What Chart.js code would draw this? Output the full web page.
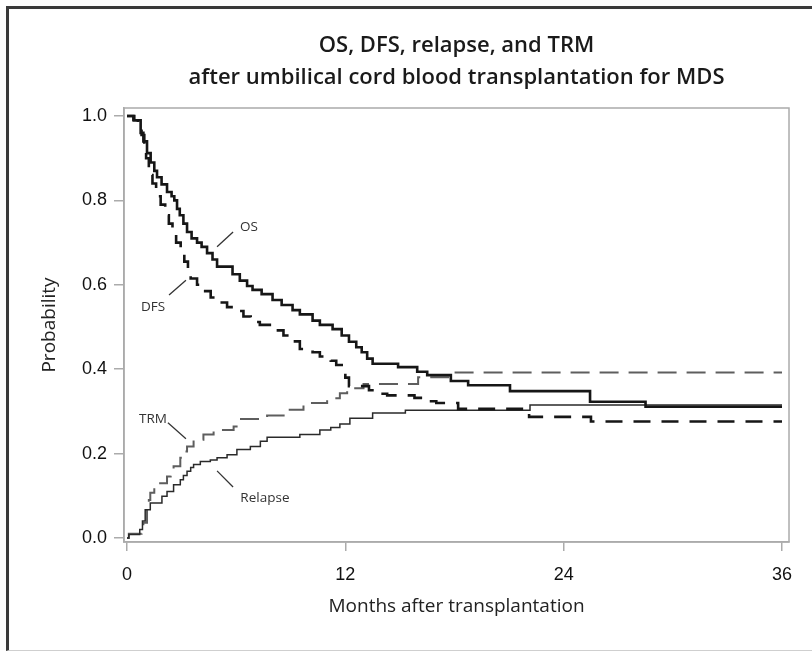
<!DOCTYPE html>
<html>
<head>
<meta charset="utf-8">
<title>OS, DFS, relapse, and TRM after UCBT for MDS</title>
<script src="https://cdn.jsdelivr.net/npm/chart.js@4/dist/chart.umd.min.js"></script>
<style>
  html, body { margin: 0; padding: 0; background: #fff; }
  #wrap { position: relative; width: 812px; height: 652px; overflow: hidden; }
  #frame {
    position: absolute; left: 6px; top: 6px; width: 820px; height: 641px;
    border-left: 3px solid #3a3a3a; border-top: 3px solid #3a3a3a;
    border-bottom: 1px solid #cfcfcf; pointer-events: none;
  }
</style>
</head>
<body>
<div id="wrap">
  <canvas id="chart" width="812" height="652"></canvas>
  <div id="frame"></div>
</div>
<script>
// Kaplan-Meier / cumulative incidence curves (months, probability)
const osMonths = [0, 0.35, 0.75, 0.9, 1.1, 1.3, 1.5, 1.65, 1.9, 2.2, 2.45, 2.6, 2.75, 2.9, 3.1, 3.3, 3.55, 3.85, 4.1, 4.4,
  4.7, 4.95, 5.8, 6.2, 6.6, 6.9, 7.4, 8.0, 8.5, 9.1, 9.5, 10.2, 10.6, 11.3, 11.8, 12.2, 12.6, 12.9, 13.2, 13.5,
  14.9, 15.95, 16.5, 17.8, 18.75, 21.05, 25.45, 28.5, 36];
const osProb = [1.0, 0.99, 0.96, 0.94, 0.912, 0.89, 0.87, 0.855, 0.838, 0.82, 0.81, 0.80, 0.78, 0.765, 0.745, 0.725, 0.71, 0.70, 0.69, 0.675,
  0.66, 0.643, 0.625, 0.61, 0.597, 0.588, 0.578, 0.564, 0.552, 0.54, 0.53, 0.515, 0.505, 0.495, 0.48, 0.465, 0.452, 0.44, 0.425, 0.413,
  0.405, 0.394, 0.386, 0.372, 0.362, 0.348, 0.323, 0.311, 0.311];

const dfsMonths = [0, 0.4, 0.6, 0.8, 0.95, 1.05, 1.2, 1.4, 1.6, 1.85, 2.1, 2.3, 2.5, 2.7, 2.95, 3.15, 3.35, 3.5, 3.85, 4.2,
  4.6, 5.0, 5.5, 5.9, 6.4, 6.8, 7.3, 8.1, 8.6, 9.1, 9.5, 10.2, 10.6, 11.2, 11.5, 11.8, 12.0, 12.2, 13.3, 13.8,
  14.3, 15.8, 16.3, 17.0, 18.2, 22.1, 25.5, 36];
const dfsProb = [1.0, 0.99, 0.98, 0.955, 0.92, 0.90, 0.86, 0.84, 0.81, 0.79, 0.765, 0.745, 0.72, 0.70, 0.68, 0.655, 0.635, 0.615, 0.60, 0.585,
  0.57, 0.558, 0.547, 0.538, 0.525, 0.512, 0.505, 0.492, 0.48, 0.466, 0.448, 0.44, 0.43, 0.42, 0.41, 0.395, 0.38, 0.36, 0.35, 0.342,
  0.338, 0.332, 0.324, 0.32, 0.306, 0.287, 0.276, 0.276];

const relapseMonths = [0, 0.1, 0.7, 0.85, 1.0, 1.28, 1.92, 2.2, 2.56, 2.93, 3.1, 3.3, 3.5, 3.66, 4.03, 4.58, 4.95, 5.5, 6.04, 6.78,
  7.33, 7.7, 9.5, 10.6, 11.2, 11.7, 12.25, 13.5, 15.3, 22.15, 36];
const relapseProb = [0, 0.008, 0.02, 0.04, 0.067, 0.083, 0.099, 0.11, 0.126, 0.138, 0.148, 0.158, 0.167, 0.174, 0.181, 0.185, 0.19, 0.197, 0.21, 0.217,
  0.229, 0.239, 0.245, 0.256, 0.262, 0.27, 0.284, 0.296, 0.303, 0.315, 0.315];

const trmMonths = [0, 0.1, 0.8, 0.9, 1.1, 1.2, 1.28, 1.5, 1.74, 2.2, 2.4, 2.56, 2.93, 3.1, 3.3, 3.66, 4.2, 4.76, 5.86, 6.2,
  7.7, 8.8, 9.7, 11.0, 11.7, 12.1, 13.0, 16.0, 17.85, 36];
const trmProb = [0, 0.01, 0.02, 0.036, 0.067, 0.09, 0.107, 0.12, 0.13, 0.146, 0.158, 0.17, 0.19, 0.205, 0.217, 0.233, 0.245, 0.256, 0.264, 0.282,
  0.29, 0.304, 0.32, 0.331, 0.343, 0.355, 0.365, 0.381, 0.392, 0.392];

const xTicks = [0, 12, 24, 36];
const yTicks = [0, 0.2, 0.4, 0.6, 0.8, 1.0];

// curve name labels with their leader lines, in data units
const curveNotes = [
  { text: "OS", at: [6.7, 0.737], line: [4.95, 0.69, 5.83, 0.725] },
  { text: "DFS", at: [1.43, 0.547], line: [2.31, 0.576, 3.24, 0.611] },
  { text: "TRM", at: [1.43, 0.282], line: [2.25, 0.273, 3.24, 0.235] },
  { text: "Relapse", at: [7.58, 0.095], line: [4.95, 0.159, 5.83, 0.121] },
];

const toPoints = (xs, ys) => xs.map((m, i) => ({ x: m, y: ys[i] }));

const axisGray = "#ababab";
const tickFont = { family: '"Liberation Sans", Arial, sans-serif', size: 18 };
const textFont = '"Open Sans", "Noto Sans", sans-serif';

const frameBox = {
  id: "frameBox",
  beforeDatasetsDraw(chart) {
    const { ctx, chartArea: a } = chart;
    ctx.save();
    ctx.strokeStyle = axisGray;
    ctx.lineWidth = 1.5;
    ctx.strokeRect(a.left, a.top, a.right - a.left, a.bottom - a.top);
    ctx.restore();
  },
};

const curveLabels = {
  id: "curveLabels",
  afterDatasetsDraw(chart) {
    const { ctx, scales: { x, y } } = chart;
    ctx.save();
    ctx.font = "13.5px " + textFont;
    ctx.fillStyle = "#333";
    ctx.strokeStyle = "#333";
    ctx.lineWidth = 1.3;
    ctx.textAlign = "center";
    ctx.textBaseline = "middle";
    curveNotes.forEach((n) => {
      ctx.beginPath();
      ctx.moveTo(x.getPixelForValue(n.line[0]), y.getPixelForValue(n.line[1]));
      ctx.lineTo(x.getPixelForValue(n.line[2]), y.getPixelForValue(n.line[3]));
      ctx.stroke();
      ctx.fillText(n.text, x.getPixelForValue(n.at[0]), y.getPixelForValue(n.at[1]));
    });
    ctx.restore();
  },
};

function curve(label, xs, ys, color, width, dash) {
  return {
    label,
    data: toPoints(xs, ys),
    borderColor: color,
    borderWidth: width,
    borderDash: dash,
    stepped: true,
    fill: false,
    pointRadius: 0,
    borderCapStyle: "butt",
    borderJoinStyle: "miter",
  };
}

new Chart(document.getElementById("chart").getContext("2d"), {
  type: "line",
  data: {
    datasets: [
      curve("OS", osMonths, osProb, "#161616", 2.6, []),
      curve("DFS", dfsMonths, dfsProb, "#161616", 2.6, [17, 11]),
      curve("Relapse", relapseMonths, relapseProb, "#2a2a2a", 1.5, []),
      curve("TRM", trmMonths, trmProb, "#5e5e5e", 2, [19, 10]),
    ],
  },
  options: {
    responsive: false,
    animation: false,
    devicePixelRatio: 1,
    layout: { padding: { left: 0, right: 23, top: 0, bottom: 0 } },
    plugins: {
      legend: { display: false },
      tooltip: { enabled: false },
      title: {
        display: true,
        fullSize: false,
        text: ["OS, DFS, relapse, and TRM", "after umbilical cord blood transplantation for MDS"],
        color: "#1a1a1a",
        font: { family: textFont, size: 22, weight: "600", lineHeight: 32 / 22 },
        padding: { top: 30, bottom: 14 },
      },
    },
    scales: {
      x: {
        type: "linear",
        min: -0.165,
        max: 36.385,
        afterBuildTicks: (s) => { s.ticks = xTicks.map((v) => ({ value: v })); },
        afterFit: (s) => { s.height = 110; },
        grid: { drawOnChartArea: false, drawTicks: true, tickLength: 9, color: axisGray, lineWidth: 1.5 },
        border: { display: true, color: axisGray, width: 1.5 },
        ticks: { font: tickFont, color: "#111", padding: 13, maxRotation: 0, autoSkip: false, callback: (v) => v },
        title: {
          display: true,
          text: "Months after transplantation",
          color: "#222",
          font: { family: textFont, size: 19 },
          padding: { top: 0, bottom: 34 },
        },
      },
      y: {
        type: "linear",
        min: -0.0095,
        max: 1.019,
        afterBuildTicks: (s) => { s.ticks = yTicks.map((v) => ({ value: v })); },
        afterFit: (s) => { s.width = 124; },
        grid: { drawOnChartArea: false, drawTicks: true, tickLength: 10, color: axisGray, lineWidth: 1.5 },
        border: { display: true, color: axisGray, width: 1.5 },
        ticks: { font: tickFont, color: "#111", padding: 7, autoSkip: false, callback: (v) => v.toFixed(1) },
        title: {
          display: true,
          text: "Probability",
          color: "#222",
          font: { family: textFont, size: 19 },
          padding: { top: 38, bottom: 0 },
        },
      },
    },
  },
  plugins: [frameBox, curveLabels],
});
</script>
</body>
</html>
